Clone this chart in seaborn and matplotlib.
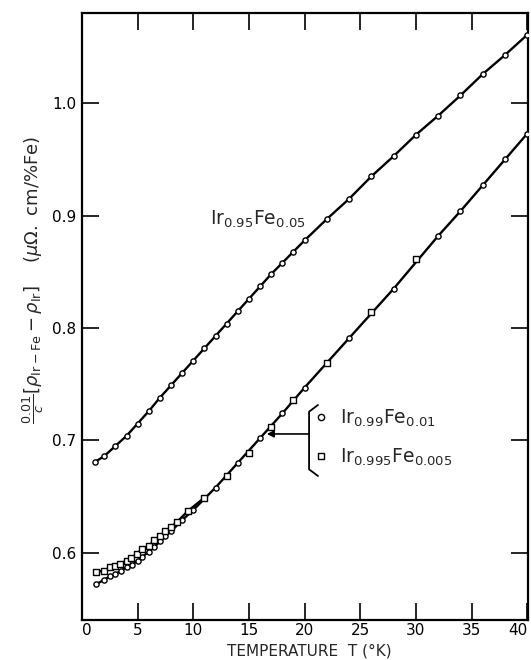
import matplotlib
matplotlib.use("Agg")
import matplotlib.pyplot as plt
from matplotlib.lines import Line2D
import seaborn as sns
import pandas as pd

# ---- data ----
T_095 = [1.2, 2, 3, 4, 5, 6, 7, 8, 9, 10, 11, 12, 13, 14, 15, 16, 17, 18, 19, 20,
         22, 24, 26, 28, 30, 32, 34, 36, 38, 40]
R_095 = [0.681, 0.686, 0.695, 0.704, 0.715, 0.726, 0.738, 0.749, 0.760, 0.771,
         0.782, 0.793, 0.804, 0.815, 0.826, 0.837, 0.848, 0.858, 0.868, 0.878,
         0.897, 0.915, 0.935, 0.953, 0.972, 0.989, 1.007, 1.026, 1.043, 1.061]

T_099 = [1.3, 2, 2.5, 3, 3.5, 4, 4.5, 5, 5.4, 6, 6.5, 7, 7.5, 8, 9, 10, 12, 14,
         16, 18, 20, 24, 28, 32, 34, 36, 38, 40]
R_099 = [0.572, 0.576, 0.579, 0.581, 0.584, 0.587, 0.589, 0.593, 0.596, 0.601,
         0.605, 0.610, 0.615, 0.619, 0.629, 0.638, 0.658, 0.680, 0.702, 0.724,
         0.747, 0.791, 0.835, 0.882, 0.904, 0.927, 0.950, 0.973]

T_0995 = [1.3, 2, 2.5, 3, 3.4, 4, 4.4, 4.9, 5.4, 6, 6.5, 7, 7.5, 8, 8.5, 9.5,
          11, 13, 15, 17, 19, 22, 26, 30]
R_0995 = [0.583, 0.584, 0.587, 0.588, 0.590, 0.593, 0.595, 0.599, 0.603, 0.606,
          0.611, 0.615, 0.619, 0.623, 0.627, 0.637, 0.649, 0.668, 0.689, 0.712,
          0.736, 0.769, 0.814, 0.861]

x_ticks = [0, 5, 10, 15, 20, 25, 30, 35, 40]
y_ticks = [0.6, 0.7, 0.8, 0.9, 1.0]
y_ticklabels = ["0.6", "0.7", "0.8", "0.9", "1.0"]

label_095 = r"Ir$_{0.95}$Fe$_{0.05}$"
label_099 = r"Ir$_{0.99}$Fe$_{0.01}$"
label_0995 = r"Ir$_{0.995}$Fe$_{0.005}$"
x_label = "TEMPERATURE  T (°K)"
y_label = (r"$\frac{0.01}{c}\left[\rho_{\mathrm{Ir-Fe}}-\rho_{\mathrm{Ir}}\right]$"
           r"    $(\mu\Omega.$ cm/%Fe)")

df095 = pd.DataFrame({"T": T_095, "R": R_095})
df099 = pd.DataFrame({"T": T_099, "R": R_099})
df0995 = pd.DataFrame({"T": T_0995, "R": R_0995})
# the two dilute-alloy curves merge above ~11 K: one common line there
df0995_low = df0995[df0995["T"] <= 11]

sns.set_style("ticks")
plt.rcParams["font.family"] = ["DejaVu Sans"]
plt.rcParams["mathtext.fontset"] = "dejavusans"

fig = plt.figure(figsize=(5.31, 6.60), dpi=100)
ax = fig.add_axes([82 / 531, 40 / 660, 446 / 531, 607 / 660])

lw = 1.7
for d in (df095, df099, df0995_low):
    sns.lineplot(data=d, x="T", y="R", ax=ax, color="black", lw=lw,
                 estimator=None, sort=True, zorder=2)

sns.scatterplot(data=df095, x="T", y="R", ax=ax, marker="o", s=14,
                color="white", edgecolor="black", linewidth=1.0, zorder=3)
sns.scatterplot(data=df099, x="T", y="R", ax=ax, marker="o", s=14,
                color="white", edgecolor="black", linewidth=1.0, zorder=3)
sns.scatterplot(data=df0995, x="T", y="R", ax=ax, marker="s", s=18,
                color="white", edgecolor="black", linewidth=1.0, zorder=4)

ax.set_xlim(0, 40.07)
ax.set_ylim(0.5401, 1.0804)
ax.set_xticks(x_ticks)
ax.set_xticklabels([str(v) for v in x_ticks])
ax.set_yticks(y_ticks)
ax.set_yticklabels(y_ticklabels)
ax.tick_params(direction="in", length=12, width=1.2, top=True, right=True,
               labelsize=11, colors="black")
ax.tick_params(axis="x", pad=2)
ax.tick_params(axis="y", pad=4)
xt = ax.get_xticklabels()
xt[0].set_horizontalalignment("left")
xt[-1].set_horizontalalignment("right")
for s in ax.spines.values():
    s.set_linewidth(1.6)
    s.set_color("black")

ax.set_xlabel(x_label, fontsize=11)
ax.xaxis.set_label_coords(0.51, -0.039)
ax.set_ylabel(y_label, fontsize=13)
ax.yaxis.set_label_coords(-0.08, 0.56)

# curve label
ax.text(11.5, 0.892, label_095, fontsize=13.5, ha="left", va="baseline")

# legend with bracket and arrow
handles = [Line2D([], [], marker="o", ls="none", mfc="white", mec="black",
                  ms=4.5, mew=1.0),
           Line2D([], [], marker="s", ls="none", mfc="white", mec="black",
                  ms=4.5, mew=1.0)]
ax.legend(handles, [label_099, label_0995], loc="center left",
          bbox_to_anchor=(20.75, 0.7025), bbox_transform=ax.transData,
          frameon=False, fontsize=13.5, handlelength=0.9, handletextpad=0.55,
          labelspacing=0.95, borderpad=0, borderaxespad=0)
ax.plot([21.2, 20.4, 20.4, 21.2], [0.7315, 0.7255, 0.6742, 0.6683],
        color="black", lw=1.3)
ax.annotate("", xy=(16.6, 0.7057), xytext=(20.4, 0.7057),
            arrowprops=dict(arrowstyle="-|>", color="black", lw=1.2,
                            mutation_scale=10, shrinkA=0, shrinkB=0))

fig.savefig("out.png", dpi=100)
